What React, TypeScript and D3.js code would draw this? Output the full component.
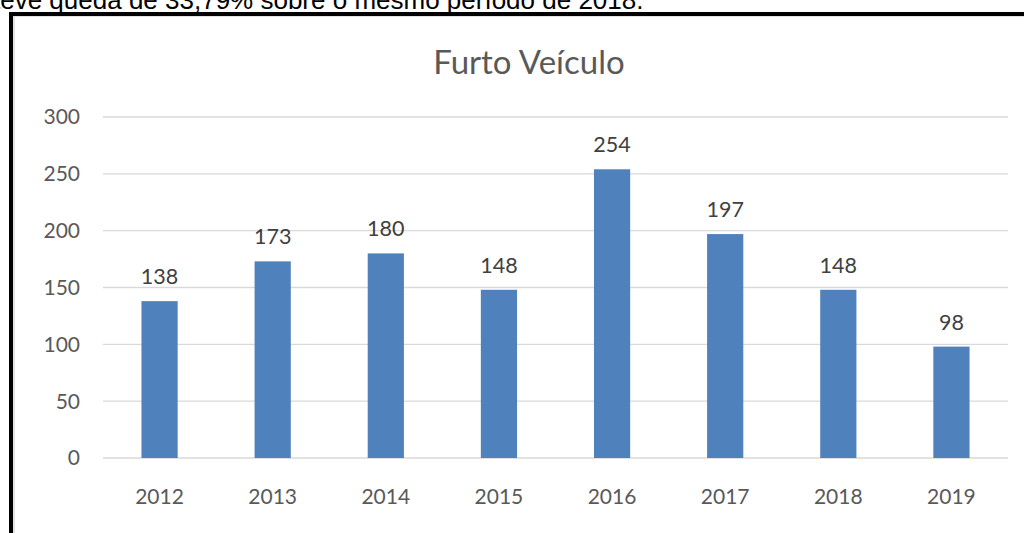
import React from "react";
import * as d3 from "d3";

const years = ["2012", "2013", "2014", "2015", "2016", "2017", "2018", "2019"];
const values = [138, 173, 180, 148, 254, 197, 148, 98];
const yTicks = [0, 50, 100, 150, 200, 250, 300];
const title = "Furto Veículo";
const caption = "teve queda de 33,79% sobre o mesmo período de 2018.";

export default function App() {
  const W = 1024, H = 533;
  const x = d3.scaleBand<string>().domain(years).range([103, 1008]).paddingInner(0.68).paddingOuter(0.34);
  const y = d3.scaleLinear().domain([0, 300]).range([458, 117]);
  const font = "Lato, 'Open Sans', sans-serif";
  return (
    <svg width={W} height={H} style={{ position: "fixed", left: 0, top: 0, background: "#fff" }}>
      <rect x={0} y={0} width={W} height={H} fill="#fff" />
      <text x={-7} y={9} fontFamily="'Liberation Sans', Arial, sans-serif" fontSize={26} fill="#000">{caption}</text>
      <rect x={14} y={16} width={W} height={H} fill="#fff" stroke="#d9d9d9" strokeWidth={1.5} />
      <line x1={11} y1={14} x2={W} y2={14} stroke="#000" strokeWidth={4} />
      <line x1={11} y1={12} x2={11} y2={H} stroke="#000" strokeWidth={4} />
      <text x={529} y={74} textAnchor="middle" fontFamily={font} fontSize={33} fill="#595959">{title}</text>
      {yTicks.map((t) => (
        <g key={t}>
          <line x1={103} x2={1008} y1={y(t)} y2={y(t)} stroke="#d9d9d9" strokeWidth={1.3} />
          <text x={80} y={y(t)} dy="0.35em" textAnchor="end" fontFamily={font} fontSize={21} fill="#595959">{t}</text>
        </g>
      ))}
      {years.map((yr, i) => (
        <g key={yr}>
          <rect x={x(yr)} y={y(values[i])} width={x.bandwidth()} height={y(0) - y(values[i])} fill="#4f81bd" />
          <text x={(x(yr) as number) + x.bandwidth() / 2} y={y(values[i]) - 17} textAnchor="middle" fontFamily={font} fontSize={21.5} fill="#404040">{values[i]}</text>
          <text x={(x(yr) as number) + x.bandwidth() / 2} y={497} dy="0.35em" textAnchor="middle" fontFamily={font} fontSize={21} fill="#595959">{yr}</text>
        </g>
      ))}
    </svg>
  );
}
